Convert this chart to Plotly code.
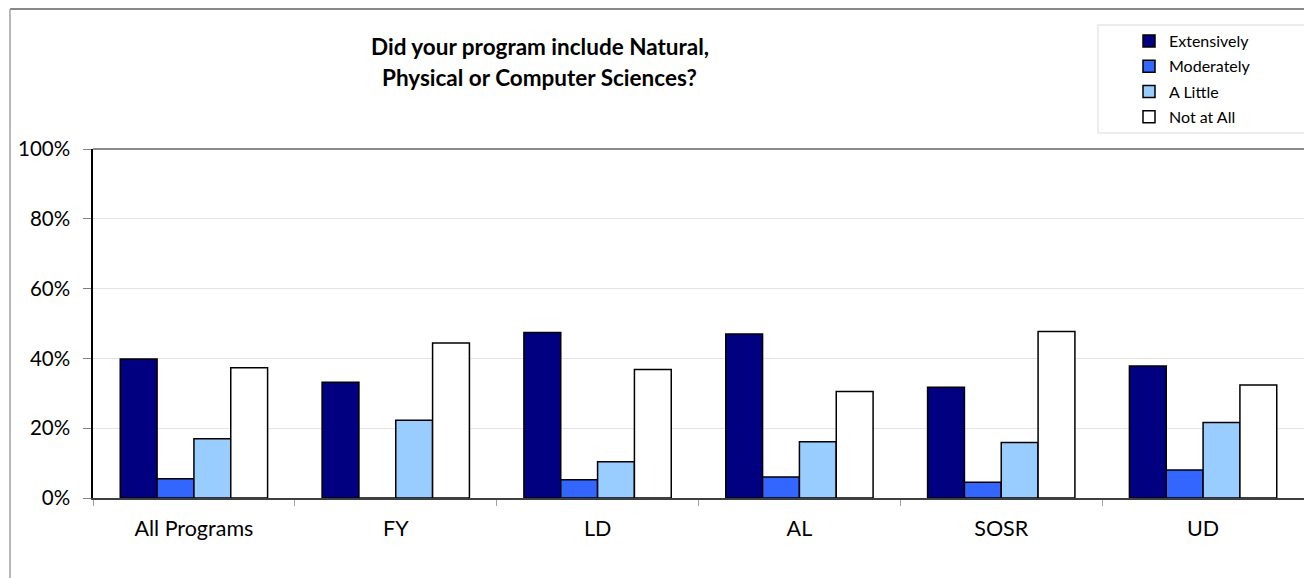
import plotly.graph_objects as go

categories = ["All Programs", "FY", "LD", "AL", "SOSR", "UD"]
series_names = ["Extensively", "Moderately", "A Little", "Not at All"]
extensively = [39.8, 33.2, 47.4, 47.0, 31.7, 37.8]
moderately = [5.5, 0.0, 5.2, 6.0, 4.5, 8.0]
a_little = [17.0, 22.3, 10.4, 16.1, 15.9, 21.6]
not_at_all = [37.3, 44.4, 36.8, 30.5, 47.7, 32.4]
colors = ["#000080", "#3366FF", "#99CCFF", "#FFFFFF"]
title_lines = ["Did your program include Natural,", "Physical or Computer Sciences?"]
y_ticks = [0, 20, 40, 60, 80, 100]
y_tick_labels = ["0%", "20%", "40%", "60%", "80%", "100%"]

W, H = 1304, 578
L, R, T, B = 93, 0, 149, 80
pw = W - L - R
ph = H - T - B

def px_x(x):
    return (x - L) / pw

def px_y(y):
    return (H - B - y) / ph

FONT = "Lato"

fig = go.Figure()
for i, (name, vals) in enumerate(zip(series_names, [extensively, moderately, a_little, not_at_all])):
    fig.add_trace(go.Bar(
        x=categories, y=vals, name=name,
        marker=dict(color=colors[i], line=dict(color="#000000", width=1.5)),
        legendgroup=name,
    ))

fig.update_layout(
    width=W, height=H,
    margin=dict(l=L, r=R, t=T, b=B),
    paper_bgcolor="white", plot_bgcolor="white",
    barmode="group", bargap=0.27, bargroupgap=0,
    font=dict(family=FONT, color="#000000"),
    showlegend=True,
    legend=dict(
        x=px_x(1129), xanchor="left", y=px_y(24), yanchor="top",
        font=dict(family=FONT, size=16, color="#000000"),
        bgcolor="rgba(0,0,0,0)", borderwidth=0,
        tracegroupgap=1.5, itemclick=False,
    ),
    xaxis=dict(
        type="category", showgrid=False,
        showline=True, linecolor="#404040", linewidth=1.5,
        ticks="outside", tickson="boundaries", ticklen=6, tickcolor="#a0a0a0",
        tickfont=dict(family=FONT, size=21.5, color="#000000"),
        ticklabelstandoff=10,
    ),
    yaxis=dict(
        range=[0, 100], tickvals=y_ticks, ticktext=y_tick_labels,
        showgrid=True, gridcolor="#e3e3e3", gridwidth=1,
        showline=True, linecolor="#000000", linewidth=1.5,
        ticks="outside", ticklen=8, tickcolor="#808080",
        tickfont=dict(family=FONT, size=20.5, color="#000000"),
        ticklabelstandoff=9,
        zeroline=False,
    ),
    annotations=[
        dict(text="<b>%s</b>" % title_lines[0], x=px_x(539.5), y=px_y(47), xref="paper", yref="paper",
             showarrow=False, xanchor="center", yanchor="middle",
             font=dict(family=FONT, size=22.5, color="#000000")),
        dict(text="<b>%s</b>" % title_lines[1], x=px_x(539.5), y=px_y(78), xref="paper", yref="paper",
             showarrow=False, xanchor="center", yanchor="middle",
             font=dict(family=FONT, size=22.5, color="#000000")),
    ],
    shapes=[
        # outer chart border (top and left)
        dict(type="line", xref="paper", yref="paper", x0=px_x(10), x1=px_x(1310), y0=px_y(9), y1=px_y(9),
             line=dict(color="#606060", width=1.5)),
        dict(type="line", xref="paper", yref="paper", x0=px_x(10), x1=px_x(10), y0=px_y(9), y1=px_y(590),
             line=dict(color="#a0a0a0", width=1.5)),
        # plot area top border
        dict(type="line", xref="paper", yref="paper", x0=0, x1=1.01, y0=1, y1=1,
             line=dict(color="#8c8c8c", width=2)),
        # legend box
        dict(type="rect", xref="paper", yref="paper", x0=px_x(1098), x1=px_x(1310), y0=px_y(25), y1=px_y(133),
             line=dict(color="#d9d9d9", width=1), fillcolor="rgba(0,0,0,0)", layer="below"),
    ],
)

fig.write_html("out.html", config={"displayModeBar": False},
               post_script="document.body.style.margin='0';document.body.style.overflow='hidden';")
